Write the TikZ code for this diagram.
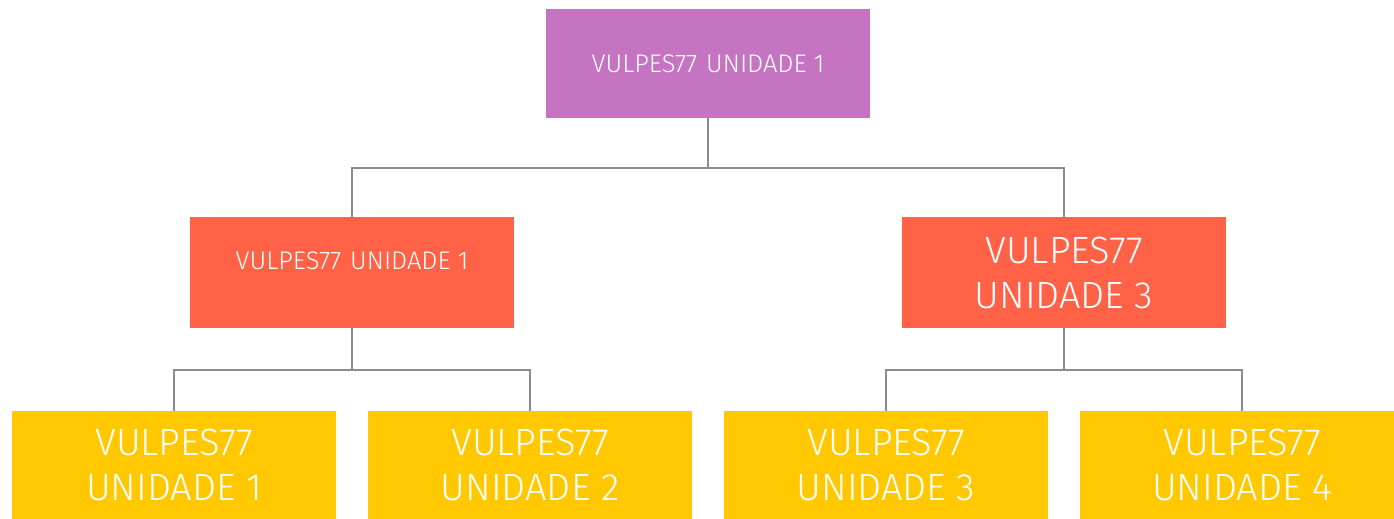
\documentclass[tikz,border=0pt]{standalone}
\usepackage{fontspec}
\setmainfont{Fira Sans Light}
\definecolor{cpurple}{HTML}{C474C0}
\definecolor{corange}{HTML}{FF6246}
\definecolor{cyellow}{HTML}{FFC800}
\definecolor{cline}{HTML}{8A8A96}
\tikzset{
  box/.style={rectangle, inner sep=0pt, minimum width=324pt, text=white, align=center},
  bigtext/.style={font=\fontsize{38}{45}\selectfont},
  smalltext/.style={font=\fontsize{25.5}{30}\selectfont},
  conn/.style={draw=cline, line width=2pt},
}
\begin{document}
\begin{tikzpicture}[x=1pt,y=-1pt]
\useasboundingbox (0,0) rectangle (1394,519);
\begin{scope}
\clip (0,0) rectangle (1394,519);
\node[box, fill=cpurple, minimum height=109pt, smalltext] (top) at (708,63.5) {\raisebox{-2pt}{VULPES77\hspace{0.35em}UNIDADE 1}};
\node[box, fill=corange, minimum height=111pt, smalltext] (ml) at (352,272.5) {\raisebox{23pt}{VULPES77\hspace{0.35em}UNIDADE 1}};
\node[box, fill=corange, minimum height=111pt, bigtext] (mr) at (1064,272.5) {VULPES77\\UNIDADE 3};
\node[box, fill=cyellow, minimum height=108pt, bigtext] (b1) at (174,465) {VULPES77\\UNIDADE 1};
\node[box, fill=cyellow, minimum height=108pt, bigtext] (b2) at (530,465) {VULPES77\\UNIDADE 2};
\node[box, fill=cyellow, minimum height=108pt, bigtext] (b3) at (886,465) {VULPES77\\UNIDADE 3};
\node[box, fill=cyellow, minimum height=108pt, bigtext] (b4) at (1242,465) {VULPES77\\UNIDADE 4};
\end{scope}
\coordinate (j1) at (708,168);
\coordinate (j2) at (352,370);
\coordinate (j3) at (1064,370);
\draw[conn] (top.south) -- (j1);
\draw[conn] (j1) -| (ml.north);
\draw[conn] (j1) -| (mr.north);
\draw[conn] (ml.south) -- (j2);
\draw[conn] (j2) -| (b1.north);
\draw[conn] (j2) -| (b2.north);
\draw[conn] (mr.south) -- (j3);
\draw[conn] (j3) -| (b3.north);
\draw[conn] (j3) -| (b4.north);
\end{tikzpicture}
\end{document}
